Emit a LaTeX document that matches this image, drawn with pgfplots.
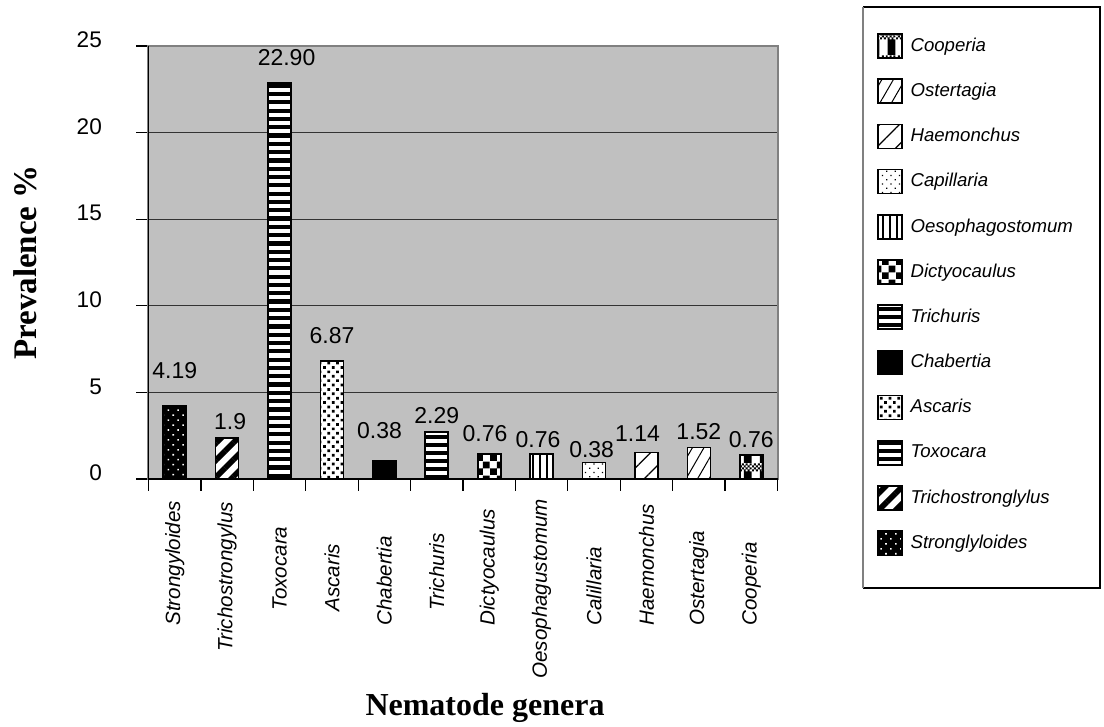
\documentclass[border=0pt]{standalone}
\usepackage{fontspec}
\setmainfont{Liberation Sans}
\newfontfamily\tnr{Liberation Serif}
\usepackage{pgfplots}
\pgfplotsset{compat=1.18}
\usetikzlibrary{patterns,patterns.meta}
\definecolor{plotbg}{RGB}{192,192,192}

% big checkerboard (Dictyocaulus)
\pgfdeclarepatternformonly{bigcheck}{\pgfqpoint{0pt}{0pt}}{\pgfqpoint{7pt}{7pt}}{\pgfqpoint{7pt}{7pt}}{%
  \pgfpathrectangle{\pgfqpoint{0pt}{0pt}}{\pgfqpoint{3.5pt}{3.5pt}}%
  \pgfpathrectangle{\pgfqpoint{3.5pt}{3.5pt}}{\pgfqpoint{3.5pt}{3.5pt}}%
  \pgfusepath{fill}}

% wide tiles so that no seams show inside a bar
\pgfdeclarepatternformonly{toxo}{\pgfqpoint{-1pt}{0pt}}{\pgfqpoint{101pt}{4.15pt}}{\pgfqpoint{100pt}{4.15pt}}{%
  \pgfpathrectangle{\pgfqpoint{-1pt}{0pt}}{\pgfqpoint{102pt}{2.1pt}}\pgfusepath{fill}}
\pgfdeclarepatternformonly{trich}{\pgfqpoint{-1pt}{0pt}}{\pgfqpoint{101pt}{4pt}}{\pgfqpoint{100pt}{4pt}}{%
  \pgfpathrectangle{\pgfqpoint{-1pt}{0pt}}{\pgfqpoint{102pt}{1.8pt}}\pgfusepath{fill}}
\pgfdeclarepatternformonly{oeso}{\pgfqpoint{0pt}{-1pt}}{\pgfqpoint{3.5pt}{101pt}}{\pgfqpoint{3.5pt}{100pt}}{%
  \pgfpathrectangle{\pgfqpoint{0pt}{-1pt}}{\pgfqpoint{1pt}{102pt}}\pgfusepath{fill}}

% Cooperia: fine checker on top, black right half below
\pgfdeclarepatternformonly{coop}{\pgfqpoint{0pt}{0pt}}{\pgfqpoint{8pt}{12pt}}{\pgfqpoint{8pt}{12pt}}{%
  \pgfpathrectangle{\pgfqpoint{4pt}{0pt}}{\pgfqpoint{4pt}{8pt}}%
  \pgfpathrectangle{\pgfqpoint{0pt}{8pt}}{\pgfqpoint{1pt}{1pt}}%
  \pgfpathrectangle{\pgfqpoint{2pt}{8pt}}{\pgfqpoint{1pt}{1pt}}%
  \pgfpathrectangle{\pgfqpoint{4pt}{8pt}}{\pgfqpoint{1pt}{1pt}}%
  \pgfpathrectangle{\pgfqpoint{6pt}{8pt}}{\pgfqpoint{1pt}{1pt}}%
  \pgfpathrectangle{\pgfqpoint{1pt}{9pt}}{\pgfqpoint{1pt}{1pt}}%
  \pgfpathrectangle{\pgfqpoint{3pt}{9pt}}{\pgfqpoint{1pt}{1pt}}%
  \pgfpathrectangle{\pgfqpoint{5pt}{9pt}}{\pgfqpoint{1pt}{1pt}}%
  \pgfpathrectangle{\pgfqpoint{7pt}{9pt}}{\pgfqpoint{1pt}{1pt}}%
  \pgfpathrectangle{\pgfqpoint{0pt}{10pt}}{\pgfqpoint{1pt}{1pt}}%
  \pgfpathrectangle{\pgfqpoint{2pt}{10pt}}{\pgfqpoint{1pt}{1pt}}%
  \pgfpathrectangle{\pgfqpoint{4pt}{10pt}}{\pgfqpoint{1pt}{1pt}}%
  \pgfpathrectangle{\pgfqpoint{6pt}{10pt}}{\pgfqpoint{1pt}{1pt}}%
  \pgfpathrectangle{\pgfqpoint{1pt}{11pt}}{\pgfqpoint{1pt}{1pt}}%
  \pgfpathrectangle{\pgfqpoint{3pt}{11pt}}{\pgfqpoint{1pt}{1pt}}%
  \pgfpathrectangle{\pgfqpoint{5pt}{11pt}}{\pgfqpoint{1pt}{1pt}}%
  \pgfpathrectangle{\pgfqpoint{7pt}{11pt}}{\pgfqpoint{1pt}{1pt}}%
  \pgfusepath{fill}}

\pgfplotsset{
  gbar/.style={draw=black, line width=0.8pt,
    /pgfplots/legend image code/.code={\draw[##1, line width=0.6pt] (0pt,-6pt) rectangle (12pt,6pt);}},
  wbar/.style={gbar, preaction={fill=white}},
}

% x, height, label, dx, dy, style
\newcommand{\genus}[6]{%
  \addplot[#6, nodes near coords={#3}, nodes near coords style={xshift=#4, yshift=#5}]
    coordinates {(#1,#2)};}

\begin{document}
\begin{tikzpicture}
\path[use as bounding box] (0,0) rectangle (552pt,363.5pt);
\begin{axis}[
  at={(74.25pt,124pt)}, anchor=south west,
  scale only axis, width=314.5pt, height=216.5pt,
  ybar, bar width=11.5pt, bar shift=0pt,
  xmin=-0.5, xmax=11.5, ymin=0, ymax=25,
  xtick={-0.5,0.5,...,11.5}, x tick label as interval,
  xticklabels={Strongyloides,\hspace*{-13pt}Trichostrongylus,\hspace*{7.5pt}Toxocara,
    \hspace*{7pt}Ascaris,Chabertia,\hspace*{7.5pt}Trichuris,
    Dictyocaulus,\hspace*{-26.5pt}Oesophagustomum,Calillaria,Haemonchus,Ostertagia,Cooperia},
  ytick={0,5,...,25},
  xtick pos=bottom, ytick pos=left,
  tick align=outside, major tick length=6pt,
  tick style={black, line width=0.6pt},
  ymajorgrids, major grid style={black!80, line width=0.6pt},
  axis background/.style={fill=plotbg},
  axis line style={draw=gray, line width=1pt},
  clip=false,
  /pgf/number format/assume math mode=true,
  yticklabel style={font=\fontsize{11.3}{13}\selectfont, xshift=-13.8pt, yshift=3pt},
  xticklabel style={font=\fontsize{10.3}{12}\selectfont\itshape, inner sep=0pt,
    yshift=-67.5pt, rotate=90, anchor=west},
  every node near coord/.append style={font=\fontsize{11.5}{13}\selectfont, anchor=base},
  xlabel={\tnr\bfseries Nematode genera},
  xlabel style={at={(axis description cs:0.535,-0.529)}, anchor=center, font=\fontsize{16}{19}\selectfont},
  ylabel={\tnr\bfseries Prevalence \%},
  ylabel style={at={(axis description cs:-0.1963,0.5)}, anchor=center, font=\fontsize{16.5}{19}\selectfont},
  reverse legend,
  legend style={at={(axis description cs:1.1582,1.030)}, anchor=north west,
    draw=none, fill=none, inner sep=0pt, row sep=10pt, column sep=2pt,
    font=\fontsize{9.3}{11}\selectfont\itshape, cells={anchor=west}, nodes={inner sep=2pt}},
]
\genus{0}{4.21}{4.19}{0pt}{14pt}{gbar, preaction={fill=black}, pattern={Dots[distance=3.5pt, angle=45, radius=0.55pt]}, pattern color=white}
\addlegendentry{Stronglyloides}
\genus{1}{2.35}{1.9}{1.5pt}{4.2pt}{wbar, pattern={Lines[angle=45, distance=6pt, line width=2.8pt]}}
\addlegendentry{Trichostronglylus}
\genus{2}{22.88}{22.90}{3.5pt}{8.8pt}{wbar, pattern=toxo}
\addlegendentry{Toxocara}
\genus{3}{6.81}{6.87}{0pt}{9pt}{wbar, pattern={Dots[distance=3.1pt, angle=45, radius=0.95pt]}}
\addlegendentry{Ascaris}
\genus{4}{1.04}{0.38}{-2.4pt}{11pt}{gbar, fill=black}
\addlegendentry{Chabertia}
\genus{5}{2.73}{2.29}{0pt}{4.3pt}{wbar, pattern=trich}
\addlegendentry{Trichuris}
\genus{6}{1.44}{0.76}{-2.1pt}{6.5pt}{wbar, pattern=bigcheck}
\addlegendentry{Dictyocaulus}
\genus{7}{1.43}{0.76}{-1.8pt}{3.2pt}{wbar, pattern=oeso}
\addlegendentry{Oesophagostomum}
\genus{8}{0.96}{0.38}{-1.2pt}{2.2pt}{wbar, pattern={Dots[distance=3pt, angle=45, radius=0.45pt]}}
\addlegendentry{Capillaria}
\genus{9}{1.54}{1.14}{-4.5pt}{5.2pt}{wbar, pattern={Lines[angle=45, distance=7pt, line width=0.6pt]}}
\addlegendentry{Haemonchus}
\genus{10}{1.81}{1.52}{0pt}{4.3pt}{wbar, pattern={Lines[angle=60, distance=5pt, line width=0.5pt]}}
\addlegendentry{Ostertagia}
\genus{11}{1.39}{0.76}{0pt}{3.5pt}{wbar, pattern=coop}
\addlegendentry{Cooperia}
\draw[black, line width=0.8pt] (rel axis cs:0,1) -- (rel axis cs:0,0) -- (rel axis cs:1,0);
\end{axis}
\draw[black, line width=0.7pt] (431.5pt,360pt) -- (550pt,360pt) -- (550pt,69.5pt) -- (431.5pt,69.5pt);
\draw[gray, line width=0.9pt] (431.5pt,69.5pt) -- (431.5pt,360pt);
\end{tikzpicture}
\end{document}
